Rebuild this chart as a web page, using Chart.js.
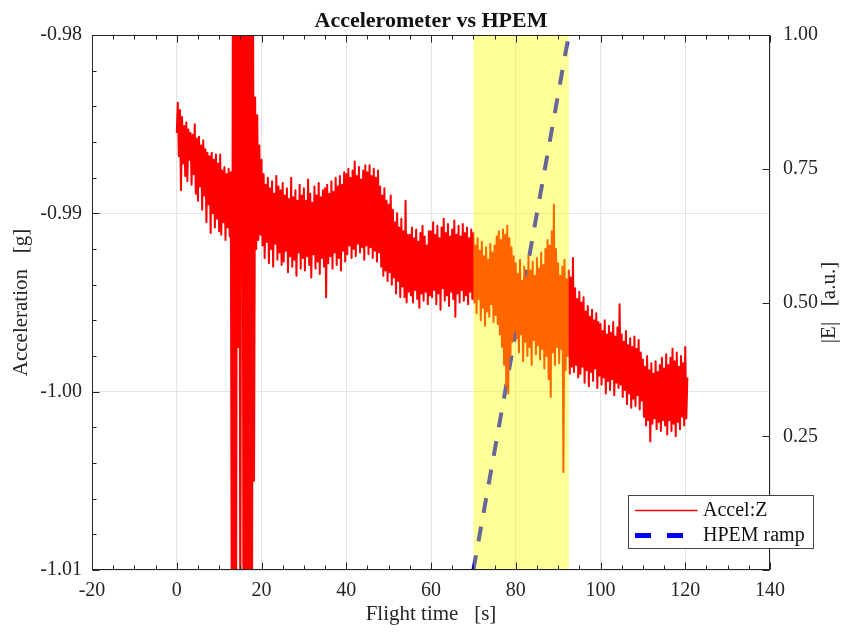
<!DOCTYPE html>
<html><head><meta charset="utf-8">
<script src="https://cdn.jsdelivr.net/npm/chart.js@4.4.1/dist/chart.umd.min.js"></script>
<style>html,body{margin:0;padding:0;background:#fff}canvas{display:block}</style>
</head><body>
<canvas id="c" width="851" height="635"></canvas>
<script>
// ---------- data ----------
const chartTitle = 'Accelerometer vs HPEM';
const xAxisTitle = 'Flight time   [s]';
const yAxisTitle = 'Acceleration   [g]';
const y2AxisTitle = '|E|   [a.u.]';
const seriesNames = ['Accel:Z', 'HPEM ramp'];

const xRange = [-20, 140];
const yRange = [-1.01, -0.98];
const y2Range = [0, 1];

// accelerometer Z samples, one every 0.25 s starting at t = 0 s
const accelStart = 0;
const accelStep = 0.25;
const accelZ = [
 -0.9855,-0.9838,-0.9868,-0.9842,-0.9887,-0.9846,-0.9872,-0.9851,-0.9879,-0.9849,-0.9882,-0.9853,-0.9870,-0.9855,-0.9884,-0.9856,-0.9878,-0.9850,-0.9889,-0.9858,
 -0.9893,-0.9857,-0.9885,-0.9862,-0.9898,-0.9859,-0.9890,-0.9864,-0.9905,-0.9866,-0.9895,-0.9868,-0.9911,-0.9866,-0.9900,-0.9870,-0.9908,-0.9867,-0.9903,-0.9872,
 -0.9910,-0.9867,-0.9912,-0.9876,-0.9905,-0.9874,-0.9915,-0.9878,-0.9908,-0.9875,-0.9913,-0.9877,-1.0150,-0.9750,-1.0150,-0.9750,-1.0150,-0.9750,-0.9975,-0.9750,
 -1.0150,-0.9750,-0.9750,-1.0150,-0.9750,-1.0150,-0.9750,-1.0150,-0.9750,-1.0150,-0.9750,-1.0150,-0.9770,-1.0050,-0.9835,-0.9920,-0.9845,-0.9915,-0.9862,-0.9912,
 -0.9870,-0.9918,-0.9878,-0.9925,-0.9884,-0.9916,-0.9880,-0.9928,-0.9886,-0.9920,-0.9882,-0.9930,-0.9889,-0.9917,-0.9879,-0.9926,-0.9885,-0.9922,-0.9887,-0.9929,
 -0.9883,-0.9927,-0.9890,-0.9921,-0.9886,-0.9933,-0.9892,-0.9924,-0.9880,-0.9930,-0.9891,-0.9926,-0.9887,-0.9935,-0.9893,-0.9922,-0.9884,-0.9931,-0.9890,-0.9925,
 -0.9886,-0.9932,-0.9893,-0.9924,-0.9881,-0.9929,-0.9889,-0.9936,-0.9894,-0.9923,-0.9885,-0.9931,-0.9890,-0.9927,-0.9883,-0.9934,-0.9891,-0.9925,-0.9887,-0.9930,
 -0.9886,-0.9947,-0.9884,-0.9928,-0.9889,-0.9924,-0.9882,-0.9931,-0.9888,-0.9922,-0.9880,-0.9929,-0.9885,-0.9925,-0.9879,-0.9932,-0.9884,-0.9921,-0.9877,-0.9927,
 -0.9878,-0.9923,-0.9875,-0.9918,-0.9880,-0.9925,-0.9876,-0.9920,-0.9871,-0.9924,-0.9879,-0.9917,-0.9874,-0.9922,-0.9881,-0.9919,-0.9876,-0.9926,-0.9873,-0.9918,
 -0.9877,-0.9923,-0.9873,-0.9919,-0.9879,-0.9925,-0.9875,-0.9921,-0.9880,-0.9927,-0.9876,-0.9922,-0.9885,-0.9930,-0.9890,-0.9935,-0.9886,-0.9932,-0.9893,-0.9938,
 -0.9895,-0.9933,-0.9890,-0.9940,-0.9898,-0.9936,-0.9905,-0.9945,-0.9900,-0.9938,-0.9908,-0.9947,-0.9903,-0.9941,-0.9910,-0.9947,-0.9893,-0.9950,-0.9912,-0.9944,
 -0.9912,-0.9946,-0.9908,-0.9950,-0.9914,-0.9943,-0.9909,-0.9948,-0.9916,-0.9953,-0.9911,-0.9945,-0.9907,-0.9949,-0.9913,-0.9944,-0.9918,-0.9951,-0.9910,-0.9946,
 -0.9910,-0.9947,-0.9905,-0.9943,-0.9912,-0.9951,-0.9907,-0.9945,-0.9914,-0.9954,-0.9908,-0.9942,-0.9903,-0.9949,-0.9911,-0.9946,-0.9906,-0.9952,-0.9913,-0.9944,
 -0.9909,-0.9948,-0.9904,-0.9958,-0.9912,-0.9945,-0.9907,-0.9950,-0.9913,-0.9943,-0.9906,-0.9949,-0.9911,-0.9946,-0.9908,-0.9951,-0.9914,-0.9944,-0.9909,-0.9948,
 -0.9911,-0.9950,-0.9918,-0.9956,-0.9914,-0.9948,-0.9921,-0.9960,-0.9916,-0.9953,-0.9924,-0.9963,-0.9919,-0.9955,-0.9926,-0.9958,-0.9917,-0.9951,-0.9922,-0.9961,
 -0.9918,-0.9957,-0.9913,-0.9962,-0.9910,-0.9968,-0.9915,-0.9975,-0.9909,-0.9985,-0.9912,-0.9997,-0.9907,-1.0001,-0.9914,-0.9980,-0.9919,-0.9972,-0.9924,-0.9966,
 -0.9928,-0.9970,-0.9934,-0.9978,-0.9926,-0.9968,-0.9938,-0.9983,-0.9930,-0.9972,-0.9936,-0.9980,-0.9924,-0.9975,-0.9932,-0.9985,-0.9927,-0.9971,-0.9935,-0.9979,
 -0.9925,-0.9974,-0.9931,-0.9982,-0.9922,-0.9976,-0.9929,-0.9987,-0.9920,-0.9980,-0.9915,-0.9993,-0.9918,-1.0003,-0.9910,-0.9978,-0.9895,-0.9985,-0.9920,-0.9975,
 -0.9928,-0.9984,-0.9935,-0.9976,-0.9930,-1.0045,-0.9926,-0.9988,-0.9937,-0.9980,-0.9932,-0.9990,-0.9936,-0.9986,-0.9925,-0.9989,-0.9942,-0.9985,-0.9948,-0.9992,
 -0.9944,-0.9990,-0.9950,-0.9986,-0.9947,-0.9995,-0.9955,-0.9988,-0.9952,-0.9997,-0.9958,-0.9989,-0.9954,-0.9994,-0.9960,-0.9987,-0.9956,-0.9998,-0.9961,-0.9991,
 -0.9962,-0.9996,-0.9966,-0.9992,-0.9960,-1.0001,-0.9968,-0.9994,-0.9963,-0.9999,-0.9967,-0.9993,-0.9961,-1.0002,-0.9969,-0.9995,-0.9964,-0.9998,-0.9951,-0.9996,
 -0.9968,-1.0003,-0.9972,-0.9999,-0.9966,-1.0007,-0.9974,-1.0001,-0.9970,-1.0009,-0.9975,-1.0004,-0.9969,-1.0008,-0.9976,-1.0002,-0.9971,-1.0010,-0.9978,-1.0005,
 -0.9982,-1.0014,-0.9986,-1.0019,-0.9980,-1.0016,-0.9988,-1.0028,-0.9984,-1.0018,-0.9990,-1.0015,-0.9983,-1.0021,-0.9989,-1.0017,-0.9985,-1.0022,-0.9981,-1.0016,
 -0.9987,-1.0019,-0.9979,-1.0024,-0.9985,-1.0016,-0.9981,-1.0022,-0.9976,-1.0018,-0.9983,-1.0025,-0.9978,-1.0017,-0.9986,-1.0021,-0.9980,-1.0014,-0.9984,-1.0019,
 -0.9975,-1.0015,-0.9992
];

// HPEM field ramp (right axis)
const hpemTime = [70, 92.5];
const hpemLevel = [0, 1];
// HPEM exposure window (shaded)
const shadeWindow = [70, 92.5];

// ---------- styles ----------
const SERIF = '"Liberation Serif", "Times New Roman", serif';
const TXT = '#262626';
const ACCEL_COLOR = '#ff0000';
const HPEM_COLOR = '#0000ff';
const SHADE_COLOR = 'rgba(255,255,0,0.4)';

const accelData = accelZ.map((v, i) => ({x: accelStart + i * accelStep, y: v}));
const hpemData = hpemTime.map((t, i) => ({x: t, y: hpemLevel[i]}));

const shadePlugin = {
  id: 'shade',
  afterDatasetsDraw(chart) {
    const {ctx, chartArea: a, scales: {x}} = chart;
    const x0 = x.getPixelForValue(shadeWindow[0]);
    const x1 = x.getPixelForValue(shadeWindow[1]);
    ctx.save();
    ctx.fillStyle = SHADE_COLOR;
    ctx.fillRect(x0, a.top, x1 - x0, a.bottom - a.top);
    ctx.restore();
  }
};

const framePlugin = {
  id: 'frame',
  afterDraw(chart) {
    const {ctx, chartArea: a, scales: {x, y, y2}} = chart;
    ctx.save();
    ctx.strokeStyle = '#262626';
    ctx.lineWidth = 1;
    const L = Math.round(a.left) + 0.5, R = Math.round(a.right) - 0.5;
    const T = Math.round(a.top) + 0.5, B = Math.round(a.bottom) - 0.5;
    ctx.strokeRect(L, T, R - L, B - T);
    ctx.beginPath();
    // x ticks (major every 20, minor every 5), bottom and top
    for (let k = 0; k <= 32; k++) {
      const v = xRange[0] + k * 5;
      const px = Math.round(x.getPixelForValue(v)) + 0.5;
      const len = (k % 4 === 0) ? 7 : 4;
      ctx.moveTo(px, B); ctx.lineTo(px, B - len);
      ctx.moveTo(px, T); ctx.lineTo(px, T + len);
    }
    // left ticks (major 0.01, minor 0.002)
    for (let k = 0; k <= 15; k++) {
      const v = yRange[0] + k * 0.002;
      const py = Math.round(y.getPixelForValue(v)) + 0.5;
      const len = (k % 5 === 0) ? 7 : 4;
      ctx.moveTo(L, py); ctx.lineTo(L + len, py);
    }
    // right ticks
    for (let k = 0; k <= 4; k++) {
      const py = Math.round(y2.getPixelForValue(k * 0.25)) + 0.5;
      ctx.moveTo(R, py); ctx.lineTo(R - 7, py);
    }
    ctx.stroke();

    // title
    ctx.fillStyle = '#111';
    ctx.font = 'bold 22px ' + SERIF;
    ctx.textAlign = 'center';
    ctx.textBaseline = 'alphabetic';
    ctx.fillText(chartTitle, (a.left + a.right) / 2, 27);

    // right axis title, reading bottom-to-top like the left one
    ctx.save();
    ctx.translate(chart.width - 22, (a.top + a.bottom) / 2);
    ctx.rotate(-Math.PI / 2);
    ctx.font = '21px ' + SERIF;
    ctx.fillStyle = TXT;
    ctx.textAlign = 'center';
    ctx.textBaseline = 'middle';
    ctx.fillText(y2AxisTitle, 0, 0);
    ctx.restore();

    // legend
    const ds = chart.data.datasets;
    const bx = Math.round(a.right) - 141.5, by = Math.round(a.bottom) - 74.5, bw = 185, bh = 53;
    ctx.fillStyle = '#fff';
    ctx.fillRect(bx, by, bw, bh);
    ctx.strokeStyle = '#444';
    ctx.lineWidth = 1;
    ctx.strokeRect(bx, by, bw, bh);
    ctx.font = '20px ' + SERIF;
    ctx.textAlign = 'left';
    ctx.textBaseline = 'middle';
    ds.forEach((d, i) => {
      const ly = by + 15 + i * 25;
      ctx.save();
      ctx.strokeStyle = d.borderColor;
      ctx.lineWidth = i === 0 ? 1.5 : 5;
      ctx.setLineDash(d.borderDash && d.borderDash.length ? [16, 16] : []);
      ctx.beginPath();
      ctx.moveTo(bx + 6.5, ly);
      ctx.lineTo(bx + 69, ly);
      ctx.stroke();
      ctx.restore();
      ctx.fillStyle = '#111';
      ctx.fillText(d.label, bx + 74.5, ly);
    });
    ctx.restore();
  }
};

const tickFont = {family: SERIF, size: 20};
const titleFont = {family: SERIF, size: 21};

new Chart(document.getElementById('c'), {
  type: 'line',
  data: {
    datasets: [
      {label: seriesNames[0], data: accelData, yAxisID: 'y', borderColor: ACCEL_COLOR,
       backgroundColor: ACCEL_COLOR, borderWidth: 2, borderJoinStyle: 'round',
       pointRadius: 0, tension: 0, fill: false},
      {label: seriesNames[1], data: hpemData, yAxisID: 'y2', borderColor: HPEM_COLOR,
       backgroundColor: HPEM_COLOR, borderWidth: 4, borderDash: [15, 14], pointRadius: 0, tension: 0, fill: false}
    ]
  },
  options: {
    responsive: false,
    animation: false,
    devicePixelRatio: 1,
    parsing: false,
    normalized: true,
    layout: {padding: {top: 35, left: 0, right: 0, bottom: 0}},
    plugins: {legend: {display: false}, title: {display: false}, tooltip: {enabled: false}},
    scales: {
      x: {
        type: 'linear', min: xRange[0], max: xRange[1],
        border: {display: false},
        grid: {color: '#e5e5e5', drawTicks: false, lineWidth: 1},
        ticks: {stepSize: 20, font: tickFont, color: TXT, padding: 9, maxRotation: 0, autoSkip: false},
        title: {display: true, text: xAxisTitle, font: titleFont, color: TXT, padding: {top: 0, bottom: 8}},
        afterFit(s) { s.height = 65; }
      },
      y: {
        type: 'linear', position: 'left', min: yRange[0], max: yRange[1],
        border: {display: false},
        grid: {color: '#e5e5e5', drawTicks: false, lineWidth: 1},
        ticks: {stepSize: 0.01, font: tickFont, color: TXT, padding: 10,
                callback: v => v.toFixed(2)},
        title: {display: true, text: yAxisTitle, font: titleFont, color: TXT, padding: {top: 9, bottom: 0}},
        afterFit(s) { s.width = 92; }
      },
      y2: {
        type: 'linear', position: 'right', min: y2Range[0], max: y2Range[1],
        border: {display: false},
        grid: {drawOnChartArea: false, drawTicks: false},
        ticks: {stepSize: 0.25, font: tickFont, color: TXT, padding: 13,
                callback: v => (v === 0 ? '' : v.toFixed(2))},
        title: {display: false, text: y2AxisTitle},
        afterFit(s) { s.width = 81; }
      }
    }
  },
  plugins: [shadePlugin, framePlugin]
});
</script>
</body></html>
